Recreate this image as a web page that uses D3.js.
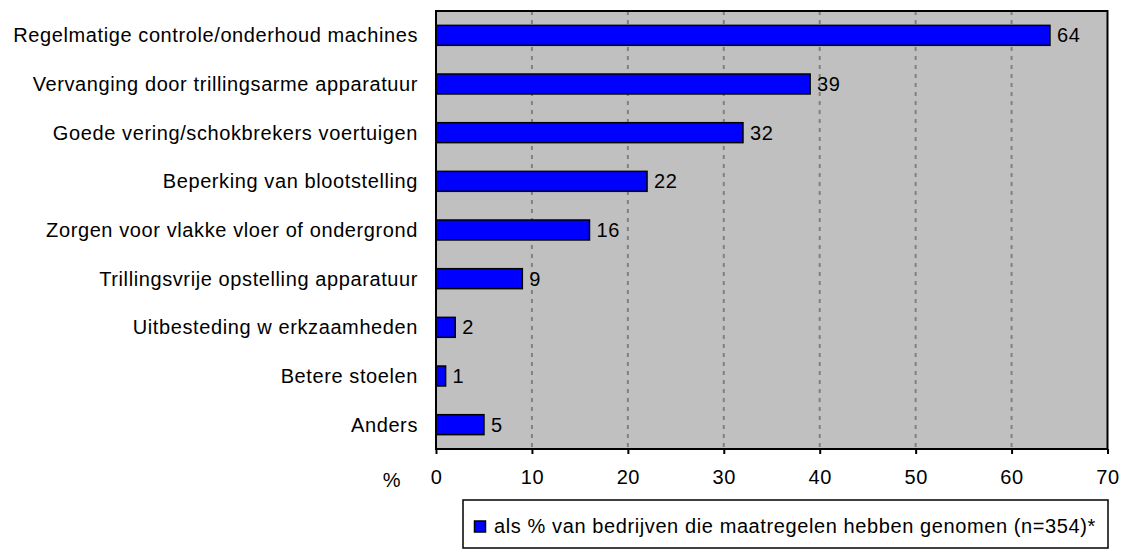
<!DOCTYPE html>
<html>
<head>
<meta charset="utf-8">
<script src="https://cdn.jsdelivr.net/npm/d3@7"></script>
<style>
  body { margin: 0; background: #fff; }
  svg { display: block; font-family: "Liberation Sans", Arial, sans-serif; }
  text { letter-spacing: 0.6px; }
</style>
</head>
<body>
<svg width="1125" height="554"></svg>
<script>
const categories = [
  'Regelmatige controle/onderhoud machines',
  'Vervanging door trillingsarme apparatuur',
  'Goede vering/schokbrekers voertuigen',
  'Beperking van blootstelling',
  'Zorgen voor vlakke vloer of ondergrond',
  'Trillingsvrije opstelling apparatuur',
  'Uitbesteding w erkzaamheden',
  'Betere stoelen',
  'Anders'
];
const values = [64, 39, 32, 22, 16, 9, 2, 1, 5];
const xTicks = [0, 10, 20, 30, 40, 50, 60, 70];
const legendLabel = 'als % van bedrijven die maatregelen hebben genomen (n=354)*';

const svg = d3.select('svg');
const margin = { left: 436, top: 11, right: 1107.5, bottom: 449 };
const fs = 20;

const x = d3.scaleLinear().domain([0, 70]).range([margin.left, margin.right]);
const y = d3.scaleBand().domain(categories).range([margin.top, margin.bottom]).paddingInner(0.59).paddingOuter(0.295);

// plot background
svg.append('rect')
  .attr('x', margin.left).attr('y', margin.top)
  .attr('width', margin.right - margin.left).attr('height', margin.bottom - margin.top)
  .attr('fill', '#c0c0c0');

// grid
svg.append('g')
  .selectAll('line')
  .data(xTicks.slice(1, -1))
  .join('line')
  .attr('x1', d => x(d)).attr('x2', d => x(d))
  .attr('y1', margin.top).attr('y2', margin.bottom)
  .attr('stroke', '#808080').attr('stroke-width', 2).attr('stroke-dasharray', '4,5');

// bars
svg.append('g')
  .selectAll('rect')
  .data(values)
  .join('rect')
  .attr('x', x(0))
  .attr('y', (d, i) => y(categories[i]))
  .attr('width', d => x(d) - x(0))
  .attr('height', y.bandwidth())
  .attr('fill', '#0000ff')
  .attr('stroke', '#000').attr('stroke-width', 1.5);

// value labels
svg.append('g')
  .selectAll('text')
  .data(values)
  .join('text')
  .attr('x', d => x(d) + 7)
  .attr('y', (d, i) => y(categories[i]) + y.bandwidth() / 2)
  .attr('dy', '0.35em')
  .attr('font-size', fs)
  .attr('fill', '#000')
  .text(d => d);

// border
svg.append('rect')
  .attr('x', margin.left).attr('y', margin.top)
  .attr('width', margin.right - margin.left).attr('height', margin.bottom - margin.top)
  .attr('fill', 'none').attr('stroke', '#000').attr('stroke-width', 2);

// category labels
svg.append('g')
  .selectAll('text')
  .data(categories)
  .join('text')
  .attr('x', 418)
  .attr('y', d => y(d) + y.bandwidth() / 2)
  .attr('dy', '0.35em')
  .attr('text-anchor', 'end')
  .attr('font-size', fs)
  .text(d => d);

// x axis
const xAxis = d3.axisBottom(x).tickValues(xTicks).tickSize(5).tickPadding(16);
const gx = svg.append('g').attr('transform', `translate(0,${margin.bottom})`).call(xAxis);
gx.select('.domain').remove();
gx.selectAll('.tick line').attr('stroke', '#000').attr('stroke-width', 2);
gx.selectAll('.tick text').attr('font-size', fs).attr('fill', '#000')
  .attr('font-family', '"Liberation Sans", Arial, sans-serif');

svg.append('text')
  .attr('x', 392).attr('y', 487)
  .attr('text-anchor', 'middle').attr('font-size', fs).text('%');

// legend
svg.append('rect')
  .attr('x', 463).attr('y', 500).attr('width', 645).attr('height', 48)
  .attr('fill', '#fff').attr('stroke', '#000').attr('stroke-width', 1.5);
svg.append('rect')
  .attr('x', 474.5).attr('y', 521).attr('width', 11).attr('height', 11)
  .attr('fill', '#0000ff').attr('stroke', '#000').attr('stroke-width', 1.5);
svg.append('text')
  .attr('x', 494).attr('y', 533).attr('font-size', fs).text(legendLabel);
</script>
</body>
</html>
